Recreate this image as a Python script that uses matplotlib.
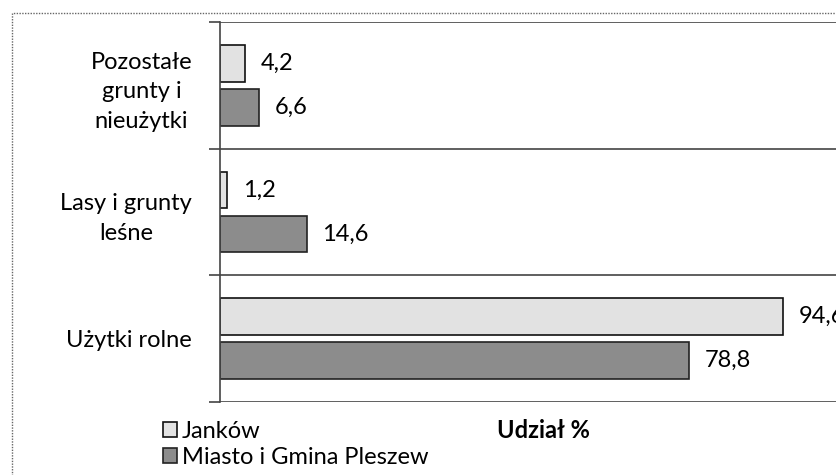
import matplotlib.pyplot as plt
import numpy as np
from matplotlib.patches import Rectangle

categories = ['Użytki rolne', 'Lasy i grunty\nleśne', 'Pozostałe\ngrunty i\nnieużytki']
jankow = [94.6, 1.2, 4.2]
pleszew = [78.8, 14.6, 6.6]
series_names = ['Janków', 'Miasto i Gmina Pleszew']

plt.rcParams['font.family'] = ['Lato', 'DejaVu Sans']
fs = 17

fig = plt.figure(figsize=(8.37, 4.75), dpi=100)
ax = fig.add_axes([220 / 837, 1 - 402 / 475, 1 - 220 / 837, 380 / 475])

y = np.arange(len(categories))
h = 0.29
off = 0.173
b1 = ax.barh(y + off, jankow, height=h, color='#e2e2e2', edgecolor='#111111',
             linewidth=1.2, label=series_names[0])
b2 = ax.barh(y - off, pleszew, height=h, color='#8c8c8c', edgecolor='#222222',
             linewidth=1.2, label=series_names[1])

for bars, vals in [(b1, jankow), (b2, pleszew)]:
    for bar, v in zip(bars, vals):
        ax.text(v + 2.6, bar.get_y() + bar.get_height() / 2,
                ('%.1f' % v).replace('.', ','), va='center', ha='left', fontsize=fs)

ax.set_xlim(0, (837 - 220) / 5.95)
ax.set_ylim(-0.5, 2.5)
ax.set_yticks(y)
ax.set_yticklabels(categories, fontsize=fs, linespacing=1.5, multialignment='center')
ax.set_yticks([-0.5, 0.5, 1.5, 2.5], minor=True)
ax.tick_params(axis='y', which='major', length=0, pad=20)
ax.tick_params(axis='y', which='minor', length=8, width=1.2, color='#444444')
ax.set_xticks([])
ax.grid(axis='y', which='minor', color='#444444', linewidth=1.2)
for s in ['top', 'right', 'bottom']:
    ax.spines[s].set_visible(False)
ax.spines['left'].set_color('#444444')
ax.spines['left'].set_linewidth(1.2)

fig.text(543 / 837, 1 - 431 / 475, 'Udział %', ha='center', va='center',
         fontsize=fs, fontweight='bold')

fig.legend(handles=[b1, b2], loc='upper left', bbox_to_anchor=(163 / 837, 1 - 421 / 475),
           frameon=False, fontsize=fs, handlelength=0.6, handleheight=0.6,
           handletextpad=0.2, labelspacing=0.2, borderaxespad=0, borderpad=0)

fig.patches.append(Rectangle((12 / 837, -0.1), 1.1, 1 - 13 / 475 + 0.1,
                             transform=fig.transFigure, fill=False,
                             edgecolor='#666666', linewidth=1.0, linestyle=(0, (1, 1))))

fig.savefig('out.png', dpi=100)
